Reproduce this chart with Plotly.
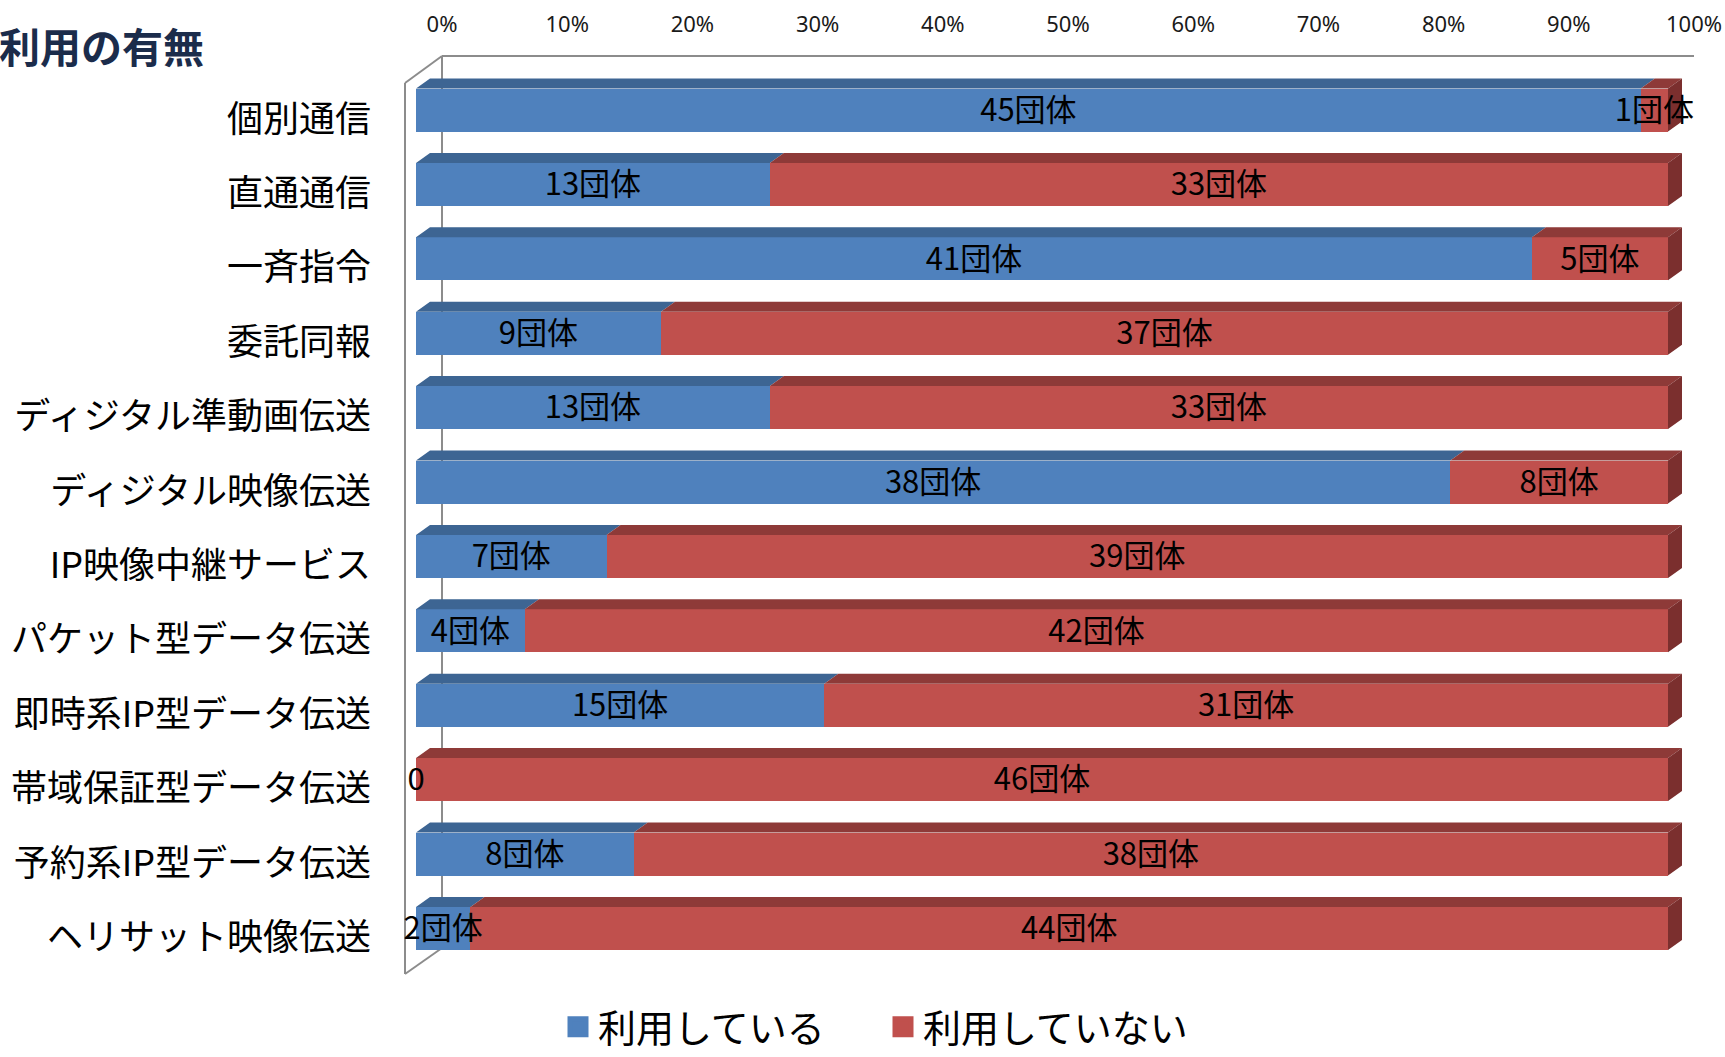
import plotly.graph_objects as go

# ---------------- data ----------------
categories = ["個別通信", "直通通信", "一斉指令", "委託同報", "ディジタル準動画伝送",
              "ディジタル映像伝送", "IP映像中継サービス", "パケット型データ伝送",
              "即時系IP型データ伝送", "帯域保証型データ伝送", "予約系IP型データ伝送",
              "ヘリサット映像伝送"]
used = [45, 13, 41, 9, 13, 38, 7, 4, 15, 0, 8, 2]
not_used = [1, 33, 5, 37, 33, 8, 39, 42, 31, 46, 38, 44]
series_names = ["利用している", "利用していない"]
unit = "団体"
title_text = "利用の有無"

# ---------------- styling / geometry ----------------
W, H = 1725, 1057
BLUE, BLUE_TOP = "#4F81BD", "#3D6593"
RED, RED_TOP, RED_SIDE = "#C0504D", "#8E3A38", "#7B2F2E"
FRAME = "#8C8C8C"
CJK = "Noto Sans CJK JP"

X0_PX, X100_PX = 416, 1668          # front face 0% and 100%
PPX = (X100_PX - X0_PX) / 100.0
ROW0_PX, ROW_STEP = 110, 74.4       # first row centre, spacing
PL, PR, PT, PB = 400, 1720, 40, 1000  # plot area in pixels
BAR_W = 43 / ROW_STEP
DX = 14 / PPX                        # depth offset (x, data units)
DY = 10 / ROW_STEP                   # depth offset (y, data units)
LABEL_DY = 3 / ROW_STEP              # small downward nudge of in-bar labels

xr = [(PL - X0_PX) / PPX, (PR - X0_PX) / PPX]
yr = [(PB - ROW0_PX) / ROW_STEP, (PT - ROW0_PX) / ROW_STEP]

idx = list(range(len(categories)))
totals = [a + b for a, b in zip(used, not_used)]
pct_used = [100.0 * a / t for a, t in zip(used, totals)]

def px_x(p):
    return p / W

def px_y(p):
    return 1 - p / H

fig = go.Figure()

# front faces
fig.add_trace(go.Bar(y=idx, x=used, orientation="h", width=BAR_W, name=series_names[0],
                     marker=dict(color=BLUE, line=dict(width=0)), showlegend=False,
                     hoverinfo="skip"))
fig.add_trace(go.Bar(y=idx, x=not_used, orientation="h", width=BAR_W, name=series_names[1],
                     marker=dict(color=RED, line=dict(width=0)), showlegend=False,
                     hoverinfo="skip"))

# top faces (parallelograms) and right side faces
def top_faces(starts, ends):
    xs, ys = [], []
    for i, (a, b) in enumerate(zip(starts, ends)):
        if b - a <= 0:
            continue
        t = i - BAR_W / 2
        xs += [a, b, b + DX, a + DX, a, None]
        ys += [t, t, t - DY, t - DY, t, None]
    return xs, ys

bx, by = top_faces([0] * len(idx), pct_used)
rx, ry = top_faces(pct_used, [100.0] * len(idx))
fig.add_trace(go.Scatter(x=bx, y=by, mode="lines", fill="toself", fillcolor=BLUE_TOP,
                         line=dict(width=0, color=BLUE_TOP), showlegend=False, hoverinfo="skip"))
fig.add_trace(go.Scatter(x=rx, y=ry, mode="lines", fill="toself", fillcolor=RED_TOP,
                         line=dict(width=0, color=RED_TOP), showlegend=False, hoverinfo="skip"))
sx, sy = [], []
for i in idx:
    t, b = i - BAR_W / 2, i + BAR_W / 2
    sx += [100, 100 + DX, 100 + DX, 100, 100, None]
    sy += [t, t - DY, b - DY, b, t, None]
fig.add_trace(go.Scatter(x=sx, y=sy, mode="lines", fill="toself", fillcolor=RED_SIDE,
                         line=dict(width=0, color=RED_SIDE), showlegend=False, hoverinfo="skip"))

# data labels
lx, ly, lt = [], [], []
for i in idx:
    lx.append(pct_used[i] / 2)
    ly.append(i + LABEL_DY)
    lt.append(f"{used[i]}{unit}" if used[i] > 0 else "0")
    lx.append(pct_used[i] + (100 - pct_used[i]) / 2)
    ly.append(i + LABEL_DY)
    lt.append(f"{not_used[i]}{unit}" if not_used[i] > 0 else "0")
fig.add_trace(go.Scatter(x=lx, y=ly, mode="text", text=lt, textposition="middle center",
                         textfont=dict(family=CJK, size=31, color="#000000"),
                         cliponaxis=False, showlegend=False, hoverinfo="skip"))

# legend entries
for nm, col in zip(series_names, [BLUE, RED]):
    fig.add_trace(go.Scatter(x=[None], y=[None], mode="markers", name=nm,
                             marker=dict(symbol="square", size=16, color=col,
                                         line=dict(width=5, color=col))))

# 3D frame (walls)
BK = (442, 56)
FR = (405, 83)
BOT_BK, BOT_FR = 948, 974
frame = [((BK[0], BK[1]), (1694, BK[1])),
         ((BK[0], BK[1]), (BK[0], BOT_BK)),
         ((FR[0], FR[1]), (FR[0], BOT_FR)),
         ((FR[0], FR[1]), (BK[0], BK[1])),
         ((FR[0], BOT_FR), (BK[0], BOT_BK))]
shapes = []
for (x0, y0), (x1, y1) in frame:
    shapes.append(dict(type="line", xref="paper", yref="paper", layer="below",
                       x0=px_x(x0), y0=px_y(y0), x1=px_x(x1), y1=px_y(y1),
                       line=dict(color=FRAME, width=2)))

fig.update_layout(
    width=W, height=H, margin=dict(l=0, r=0, t=0, b=0, autoexpand=False),
    paper_bgcolor="white", plot_bgcolor="rgba(0,0,0,0)",
    barmode="stack", barnorm="percent",
    shapes=shapes,
    xaxis=dict(domain=[px_x(PL), px_x(PR)], range=xr, side="top", tick0=0, dtick=10,
               ticksuffix="%", showgrid=False, zeroline=False, showline=False, ticks="",
               ticklabelshift=26, ticklabelstandoff=3, automargin=False,
               tickfont=dict(family="Noto Sans", size=22, color="#1A1A1A")),
    yaxis=dict(domain=[px_y(PB), px_y(PT)], range=yr, tickvals=idx, ticktext=categories,
               showgrid=False, zeroline=False, showline=False, ticks="",
               ticklabelstandoff=28, ticklabelshift=-9, automargin=False,
               tickfont=dict(family=CJK, size=36, color="#000000")),
    legend=dict(orientation="h", traceorder="normal", x=px_x(558), xanchor="left",
                y=px_y(1027), yanchor="middle", entrywidth=280, entrywidthmode="pixels",
                font=dict(family=CJK, size=38, color="#000000"), bgcolor="rgba(0,0,0,0)"),
    annotations=[dict(text=f"<b>{title_text}</b>", xref="paper", yref="paper",
                      x=px_x(-3), y=px_y(45), xanchor="left", yanchor="middle",
                      showarrow=False, font=dict(family=CJK, size=41, color="#1B2C4B"))],
)

fig.write_html("out.html")
